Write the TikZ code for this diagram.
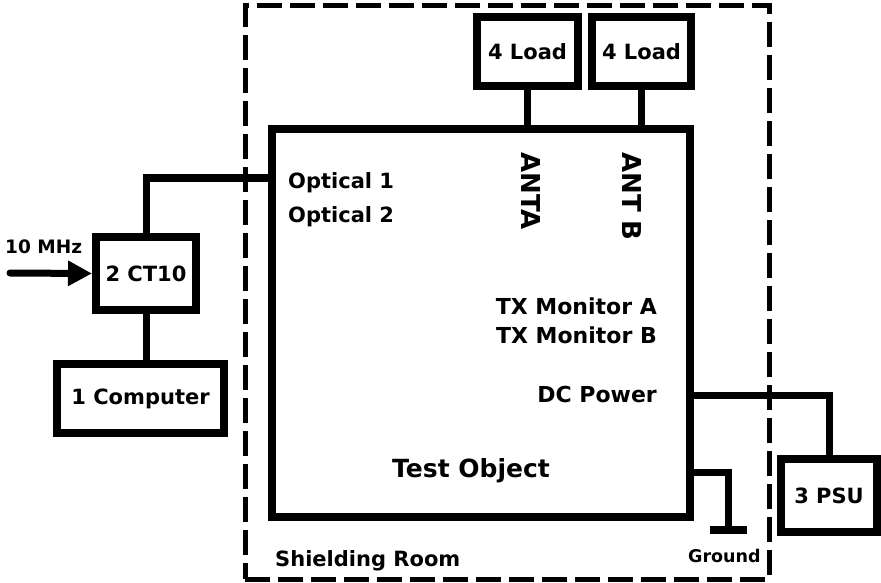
\documentclass[tikz,border=0pt]{standalone}
\usepackage{fontspec}
\setmainfont{DejaVu Sans}
\usetikzlibrary{arrows.meta}

\begin{document}
\begin{tikzpicture}[x=1pt,y=-1pt,
    box/.style={draw,line width=8pt,inner sep=0pt,font=\fontsize{21}{25}\selectfont\bfseries},
    wire/.style={line width=7pt},
    lbl/.style={inner sep=0pt,font=\fontsize{21}{25}\selectfont\bfseries}]
  \useasboundingbox (0,0) rectangle (881,583);
  % shielding room
  \node[draw,line width=5pt,dash pattern=on 25pt off 8pt,minimum width=524pt,minimum height=573pt] (room) at (507,292.5) {};
  % boxes
  \node[box,minimum width=418pt,minimum height=388pt] (dut) at (481,323) {};
  \node[box,minimum width=101pt,minimum height=69pt] (loada) at (527.5,51.5) {4 Load};
  \node[box,minimum width=99pt,minimum height=69pt] (loadb) at (641.5,51.5) {4 Load};
  \node[box,minimum width=100pt,minimum height=73pt] (ct10) at (146,273.5) {2 CT10};
  \node[box,minimum width=167pt,minimum height=69pt] (pc) at (140.5,398.5) {1 Computer};
  \node[box,minimum width=96pt,minimum height=73pt] (psu) at (829,495.5) {3 PSU};
  % labels
  \node[lbl,anchor=base west] (opt1) at (288,188) {Optical 1};
  \node[lbl,anchor=base west] (opt2) at (288,222) {Optical 2};
  \node[lbl,anchor=base east,font=\fontsize{22}{26}\selectfont\bfseries] (txa) at (657,314) {TX Monitor A};
  \node[lbl,anchor=base east,font=\fontsize{22}{26}\selectfont\bfseries] (txb) at (657,343) {TX Monitor B};
  \node[lbl,anchor=base east,font=\fontsize{22}{26}\selectfont\bfseries] (dcp) at (657,402) {DC Power};
  \node[lbl,anchor=base west,font=\fontsize{25}{30}\selectfont\bfseries] (title) at (392,477) {Test Object};
  \node[lbl,anchor=west,rotate=-90,font=\fontsize{26}{30}\selectfont\bfseries] (anta) at (531,152) {ANTA};
  \node[lbl,anchor=west,rotate=-90,font=\fontsize{26}{30}\selectfont\bfseries] (antb) at (632,152) {ANT B};
  \node[lbl,anchor=base west] (roomlbl) at (275,566) {Shielding Room};
  \node[lbl,anchor=base west,font=\fontsize{17.5}{21}\selectfont\bfseries] (gndlbl) at (688,562) {Ground};
  \node[lbl,anchor=base west,font=\fontsize{18.5}{22}\selectfont\bfseries] (reflbl) at (5,253) {10 MHz};
  % connections
  \coordinate (src) at (10,273);
  \coordinate (optin) at (dut.west |- 0,178);
  \coordinate (gnd) at (728,530);
  \draw[wire] (loada.south) -- (loada.south |- dut.north);
  \draw[wire] (loadb.south) -- (loadb.south |- dut.north);
  \draw[wire] (ct10.north) |- (optin);
  \draw[wire] (ct10.south) -- (ct10.south |- pc.north);
  \draw[wire,line cap=round,-{Triangle[length=24pt,width=24pt]}] (src) -- (ct10.west);
  \draw[wire] (dut.east |- 0,395) -| (psu.north);
  \draw[wire] (dut.east |- 0,472) -| (gnd);
  \draw[line width=8pt] ([xshift=-18.5pt]gnd) -- ([xshift=18.5pt]gnd);
\end{tikzpicture}
\end{document}
